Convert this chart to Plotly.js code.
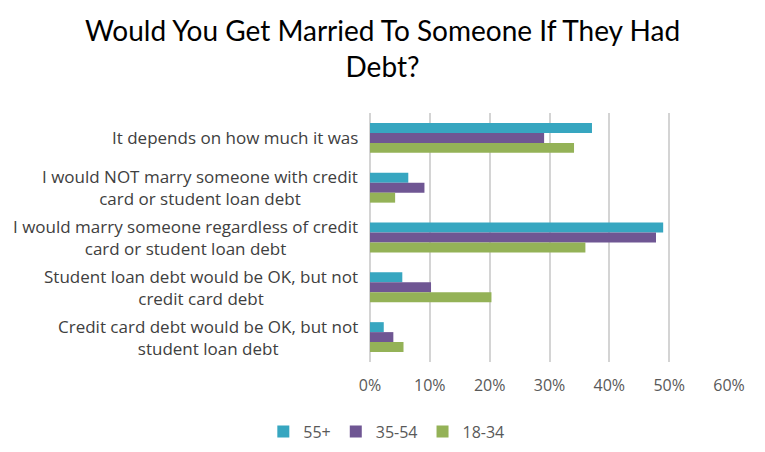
<!DOCTYPE html>
<html>
<head>
<meta charset="utf-8">
<script src="https://cdn.plot.ly/plotly-3.0.1.min.js"></script>
<style>html,body{margin:0;padding:0;background:#fff;}#chart{width:765px;height:452px;}</style>
</head>
<body>
<div id="chart"></div>
<script>
var categories = [
  "It depends on how much it was",
  "I would NOT marry someone with credit<br>card or student loan debt",
  "I would marry someone regardless of credit<br>card or student loan debt",
  "Student loan debt would be OK, but not<br>credit card debt",
  "Credit card debt would be OK, but not<br>student loan debt"
];
var seriesNames = ["55+", "35-54", "18-34"];
var values55 = [0.371, 0.064, 0.490, 0.054, 0.023];
var values3554 = [0.291, 0.091, 0.478, 0.102, 0.039];
var values1834 = [0.341, 0.042, 0.360, 0.203, 0.056];
var colors = ["#37A6C0", "#6F5693", "#94B257"];
var tickVals = [0, 0.1, 0.2, 0.3, 0.4, 0.5, 0.6];
var tickText = ["0%", "10%", "20%", "30%", "40%", "50%", "60%"];

var allValues = [values55, values3554, values1834];
var traces = seriesNames.map(function (name, i) {
  return {
    type: "bar",
    orientation: "h",
    name: name,
    y: categories,
    x: allValues[i],
    marker: { color: colors[i] }
  };
});

var labelFont = { family: "'Open Sans', sans-serif", size: 17, color: "#404040" };
var tickFont = { family: "'Open Sans', sans-serif", size: 16, color: "#595959" };

var annotations = categories.map(function (c) {
  return {
    xref: "paper", yref: "y",
    x: 0, y: c,
    xanchor: "right", yanchor: "middle",
    xshift: -10,
    align: "center",
    showarrow: false,
    text: c,
    font: labelFont
  };
});

var layout = {
  width: 765, height: 452,
  margin: { l: 370, r: 36, t: 113, b: 90 },
  paper_bgcolor: "#ffffff",
  plot_bgcolor: "#ffffff",
  title: {
    text: "Would You Get Married To Someone If They Had<br>Debt?",
    font: { family: "Lato, 'Open Sans', sans-serif", size: 28, color: "#000000" },
    x: 0.5, xanchor: "center", xref: "container",
    y: 0.91, yanchor: "middle", yref: "container"
  },
  barmode: "group",
  bargap: 0.4,
  bargroupgap: 0,
  xaxis: {
    range: [0, 0.6],
    tickvals: tickVals,
    ticktext: tickText,
    showgrid: true,
    gridcolor: "#D4D4D4",
    gridwidth: 2,
    zeroline: true,
    zerolinecolor: "#D4D4D4",
    zerolinewidth: 2,
    showline: false,
    ticks: "",
    ticklabelstandoff: 12,
    tickfont: tickFont,
    automargin: false
  },
  yaxis: {
    autorange: "reversed",
    showticklabels: false,
    showgrid: false,
    zeroline: false,
    ticks: "",
    automargin: false
  },
  showlegend: true,
  legend: {
    orientation: "h",
    x: 0.505, xanchor: "center", xref: "container",
    y: 0.045, yanchor: "middle", yref: "container",
    font: tickFont,
    itemwidth: 30,
    traceorder: "normal"
  },
  annotations: annotations
};

Plotly.newPlot("chart", traces, layout, { displayModeBar: false, staticPlot: true });
</script>
</body>
</html>
